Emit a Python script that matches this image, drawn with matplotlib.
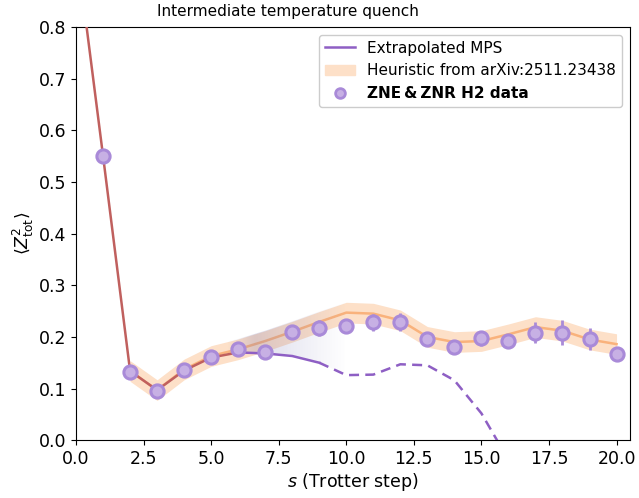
import numpy as np
import matplotlib

matplotlib.use("Agg")
import matplotlib.pyplot as plt
from matplotlib.lines import Line2D
from matplotlib.patches import Patch

# MPS curve: exact part (s <= 6), extrapolated solid (6..9), extrapolated dashed (9..)
mps_exact_s = [0, 1, 2, 3, 4, 5, 6]
mps_exact_z = [0.96, 0.55, 0.134, 0.097, 0.135, 0.160, 0.170]
mps_solid_s = [6, 7, 8, 9]
mps_solid_z = [0.170, 0.168, 0.163, 0.150]
mps_dash_s = [9, 10, 11, 12, 13, 14, 15, 16, 17]
mps_dash_z = [0.150, 0.126, 0.127, 0.147, 0.145, 0.116, 0.052, -0.038, -0.15]

# Heuristic curve (arXiv:2511.23438) and its band half-width
heur_s = np.arange(2, 21)
heur_z = [0.134, 0.097, 0.137, 0.163, 0.176, 0.192, 0.210, 0.229, 0.247,
          0.245, 0.232, 0.200, 0.190, 0.192, 0.205, 0.219, 0.212, 0.195, 0.186]
heur_width = 0.02

# ZNE & ZNR H2 data
data_s = np.arange(1, 21)
data_z = [0.55, 0.133, 0.096, 0.135, 0.162, 0.177, 0.170, 0.210, 0.217, 0.222,
          0.228, 0.229, 0.196, 0.180, 0.197, 0.192, 0.208, 0.208, 0.196, 0.166]
data_err = [0.004, 0.004, 0.004, 0.005, 0.005, 0.006, 0.006, 0.010, 0.015, 0.012,
            0.017, 0.018, 0.011, 0.008, 0.015, 0.011, 0.020, 0.024, 0.022, 0.008]

PURPLE = "#8e5fc4"
RED = "#c0605e"
ORANGE = "#f9b27c"
BAND = "#fde0c8"
MARK_FACE = "#c7b0e4"
MARK_EDGE = "#a98ad8"

fig = plt.figure(figsize=(6.39, 4.98), dpi=100)
ax = fig.add_axes([0.119, 0.116, 0.867, 0.830])

heur_z = np.array(heur_z)
ax.fill_between(heur_s, heur_z - heur_width, heur_z + heur_width,
                color=BAND, lw=0, zorder=1)
ax.plot(heur_s, heur_z, color=ORANGE, lw=1.8, zorder=2)

# shaded gap between MPS and heuristic, fading out towards s = 10
mps_all_s = mps_exact_s[:-1] + mps_solid_s + mps_dash_s[1:]
mps_all_z = mps_exact_z[:-1] + mps_solid_z + mps_dash_z[1:]
gap_s = np.array([5, 6, 7, 8, 9, 10])
gap_lo = np.interp(gap_s, mps_all_s, mps_all_z)
gap_hi = np.interp(gap_s, heur_s, heur_z) + heur_width
poly = ax.fill_between(gap_s, gap_lo, gap_hi, color="none", lw=0)
xs = np.linspace(5, 10, 400)
alpha = 0.24 * np.clip((xs - 5.6) / 1.0, 0, 1) * np.clip((10 - xs) / 3.4, 0, 1)
img = np.zeros((1, xs.size, 4))
img[..., 0], img[..., 1], img[..., 2] = 0.45, 0.45, 0.70
img[0, :, 3] = alpha
im = ax.imshow(img, extent=[5, 10, 0, 0.4], aspect="auto", zorder=2.5,
               interpolation="bilinear")
im.set_clip_path(poly.get_paths()[0], transform=ax.transData)

ax.plot(mps_exact_s, mps_exact_z, color=RED, lw=1.8, zorder=3)
ax.plot(mps_solid_s, mps_solid_z, color=PURPLE, lw=1.8, zorder=3)
ax.plot(mps_dash_s, mps_dash_z, color=PURPLE, lw=1.8, ls=(0, (4, 2.5)), zorder=3)

ax.errorbar(data_s, data_z, yerr=data_err, fmt="o", ms=9.5, mfc=MARK_FACE,
            mec=MARK_EDGE, mew=2.2, ecolor=MARK_EDGE, elinewidth=2, capsize=0,
            zorder=4)

ax.set_xlim(0, 20.5)
ax.set_ylim(0, 0.8)
ax.set_xticks(np.arange(0, 20.1, 2.5))
ax.set_yticks(np.arange(0, 0.81, 0.1))
ax.tick_params(labelsize=12.5)
ax.set_xlabel("$s$ (Trotter step)", fontsize=12.5, labelpad=2)
ax.set_ylabel(r"$\langle Z^2_{\rm tot}\rangle$", fontsize=12.5, labelpad=2)
ax.set_title("Intermediate temperature quench", fontsize=11, pad=8, x=0.383)

handles = [
    Line2D([], [], color=PURPLE, lw=1.8),
    Patch(color=BAND),
    Line2D([], [], marker="o", ls="none", ms=7, mfc=MARK_FACE, mec=MARK_EDGE, mew=2),
]
labels = ["Extrapolated MPS", "Heuristic from arXiv:2511.23438",
          "ZNE\u2009&\u2009ZNR H2 data"]
leg = ax.legend(handles, labels, loc="upper right", fontsize=11, framealpha=1)
leg.get_texts()[2].set_fontweight("bold")

fig.savefig("out.png", dpi=100)
